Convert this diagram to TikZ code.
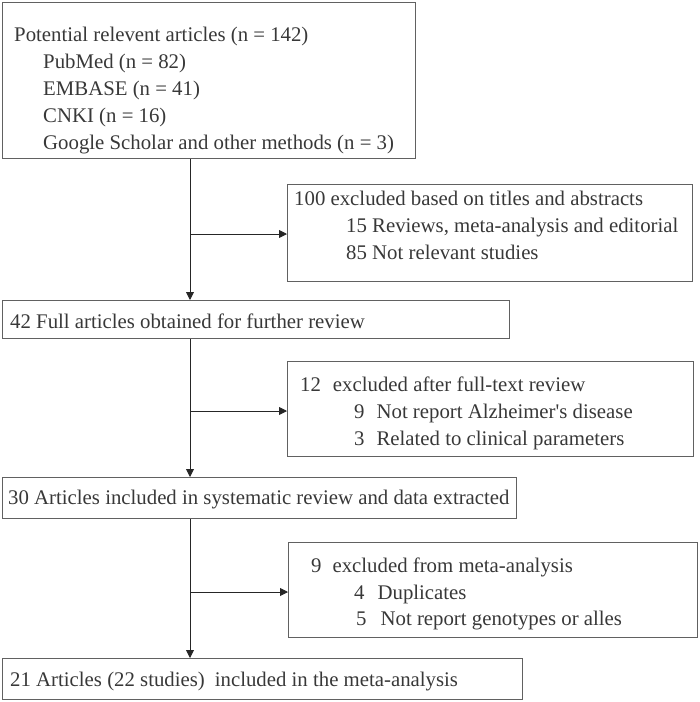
\documentclass[tikz,border=0pt]{standalone}
\usepackage{fontspec}
\setmainfont{Liberation Serif}
\usetikzlibrary{arrows.meta}
\begin{document}
\begin{tikzpicture}[x=1pt,y=-1pt,
  boxstyle/.style={draw=black!62, line width=1.2pt, rectangle, inner sep=0pt, anchor=north west},
  txt/.style={anchor=base west, inner sep=0pt, text=black!78, font=\fontsize{20.8}{25}\selectfont},
  conn/.style={draw=black!85, line width=0.9pt},
  arr/.style={conn, -{Triangle[length=8pt,width=8pt]}}]
\path[use as bounding box] (0,0) rectangle (700,702);
% boxes
\node[boxstyle, minimum width=413pt, minimum height=156pt] (b1) at (2,2) {};
\node[boxstyle, minimum width=405pt, minimum height=97pt] (b2) at (287,184) {};
\node[boxstyle, minimum width=507pt, minimum height=38pt] (b3) at (2,300) {};
\node[boxstyle, minimum width=406pt, minimum height=95pt] (b4) at (287,361) {};
\node[boxstyle, minimum width=514pt, minimum height=41pt] (b5) at (2,477) {};
\node[boxstyle, minimum width=409pt, minimum height=95pt] (b6) at (288,542) {};
\node[boxstyle, minimum width=520pt, minimum height=41pt] (b7) at (2,658) {};
% texts
\node[txt] (t1a) at (14,41) {Potential relevent articles (n = 142)};
\node[txt] (t1b) at (43,68) {PubMed (n = 82)};
\node[txt] (t1c) at (43,95) {EMBASE (n = 41)};
\node[txt] (t1d) at (43,122) {CNKI (n = 16)};
\node[txt] (t1e) at (43,149) {Google Scholar and other methods (n = 3)};
\node[txt] (t2a) at (294,205) {100 excluded based on titles and abstracts};
\node[txt] (t2b) at (346,232) {15 Reviews, meta-analysis and editorial};
\node[txt] (t2c) at (346,259) {85 Not relevant studies};
\node[txt] (t3) at (10,328) {42 Full articles obtained for further review};
\node[txt] (t4a) at (300,391) {12\hspace{12pt}excluded after full-text review};
\node[txt] (t4b) at (354,418) {9\hspace{12pt}Not report Alzheimer\textquotesingle s disease};
\node[txt] (t4c) at (354,445) {3\hspace{12pt}Related to clinical parameters};
\node[txt] (t5) at (8,504) {30 Articles included in systematic review and data extracted};
\node[txt] (t6a) at (311,572) {9\hspace{11pt}excluded from meta-analysis};
\node[txt] (t6b) at (354,599) {4\hspace{13pt}Duplicates};
\node[txt] (t6c) at (356,625) {5\hspace{14pt}Not report genotypes or alles};
\node[txt] (t7) at (10,686) {21 Articles (22 studies)\hspace{10pt}included in the meta-analysis};
% connectors
\coordinate (spine) at (190,0);
\coordinate (j1) at (190,234);
\coordinate (j2) at (190,411);
\coordinate (j3) at (190,592);
\draw[arr] (spine |- b1.south) -- (spine |- b3.north);
\draw[arr] (spine |- b3.south) -- (spine |- b5.north);
\draw[arr] (spine |- b5.south) -- (spine |- b7.north);
\draw[arr] (j1) -- (j1 -| b2.west);
\draw[arr] (j2) -- (j2 -| b4.west);
\draw[arr] (j3) -- (j3 -| b6.west);
\end{tikzpicture}
\end{document}
